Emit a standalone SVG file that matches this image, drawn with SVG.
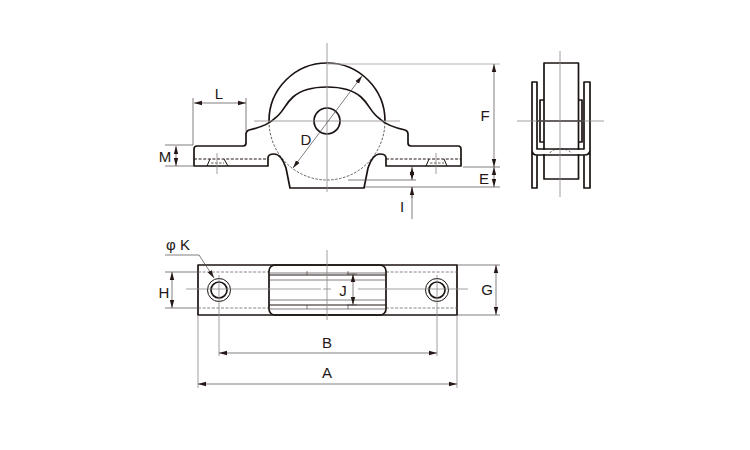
<svg xmlns="http://www.w3.org/2000/svg" width="750" height="450" viewBox="0 0 750 450">
<style>
.o{fill:none;stroke:#1a1311;stroke-width:1.7;stroke-linejoin:round}
.h{fill:none;stroke:#231815;stroke-width:1.1;stroke-dasharray:3 1.6}
.d{fill:none;stroke:#231815;stroke-width:.7;stroke-dasharray:2.5 1.5}
.t{fill:none;stroke:#8a8786;stroke-width:.8}
.m{fill:none;stroke:#4a4645;stroke-width:.7}
.a{fill:none;stroke:#4a4645;stroke-width:.7;marker-start:url(#ah);marker-end:url(#ah)}
text{font-family:"Liberation Sans",Arial,sans-serif;font-size:15px;fill:#231815;text-anchor:middle}
</style>
<defs>
<marker id="ah" viewBox="0 0 8 6" refX="8" refY="3" markerWidth="8" markerHeight="6" markerUnits="userSpaceOnUse" orient="auto-start-reverse"><path d="M0 .8L8 3L0 5.2z" fill="#231815"/></marker>
</defs>
<rect width="750" height="450" fill="#fff"/>
<g id="front-view">
<path class="o" d="M269 121A58 58 0 0 1 385 121"/>
<path class="d" d="M269 121A58 59 0 0 0 385 121"/>
<path class="o" d="M194 166V149Q194 146 197 146H243Q246 146 246 143V134Q246 131 249 130C258 128 268 125 274 119C284 112 284 105 293 97C301 90 312 87 327 87C342 87 353 90 361 97C370 105 370 112 380 119C386 125 396 128 405 130Q408 131 408 134V143Q408 146 411 146H458Q461 146 461 149V166H386V158C386 156 384 154 380 154C374 154 370 162 368 168Q366 178 364 188H290Q288 178 286 168C284 162 280 154 274 154C270 154 268 156 268 158V166Z"/>
<circle class="o" cx="327" cy="121" r="13"/>
<path class="h" d="M194 159H268M386 159H461"/>
<path class="o" style="stroke-width:1" d="M207 166L210 159M224 159L228 166M426 166L429 159M444 159L447 166"/>
<path class="d" d="M211 163H224M430 163H444"/>
</g>
<g id="side-view">
<rect class="o" x="544" y="63" width="34.500" height="116"/>
<path class="o" style="stroke:#fff;stroke-width:4" d="M538 152H584"/>
<path class="o" d="M537 149V82H532V188H537V155H584V188H590V82H584V149ZM532 150Q532 155 537 155M590 150Q590 155 584 155"/>
<path class="o" d="M544 100H540V142H544M578 100H582V142H578M537 121H584"/>
<path class="d" d="M550 153Q552 149 560 149Q569 149 571 153"/>
</g>
<g id="plan-view">
<rect class="o" x="198" y="265" width="259" height="50"/>
<path class="h" style="stroke-width:.8;stroke:#6a6665" d="M198 272H269M386 272H457M198 308H269M386 308H457"/>
<rect class="o" x="269" y="265" width="117" height="50" rx="6"/>
<path class="m" d="M269 273H386M269 280H386M269 300H386M269 309H386M307 271V275M307 305V309M348 271V275M348 305V309"/>
<path class="m" style="stroke-width:1.200;stroke:#231815" d="M269 275H386M269 305H386"/>
<circle class="o" style="stroke-width:1" cx="219" cy="290" r="11.500"/>
<circle class="o" cx="219" cy="290" r="8"/>
<circle class="o" style="stroke-width:1" cx="437" cy="290" r="11.500"/>
<circle class="o" cx="437" cy="290" r="8"/>
</g>
<g id="connectors">
<path class="t" d="M327 43V192M254 121H400M560 51V197M517 121H604M217 153V174M436 153V174"/>
<path class="t" d="M327 250V320M186 289H321M323 289H331M358 289H468M219 275V356M437 275V356M198 315V388M457 315V388"/>
<path class="t" style="stroke-width:1.200;stroke:#b5b3b2" d="M327 64H500"/>
<path class="m" d="M193 98V145M246 98V131M165 145H193M165 166H193M463 167H500M365 187H500M348 180H416M412 187V219M457 265H500M457 315H500M165 272H198M165 308H198M347 274H357M347 305H357"/>
<path class="a" d="M194 103H246"/>
<path class="a" d="M176 146V166"/>
<path class="a" d="M293 168L362 76"/>
<path class="a" d="M494 64V167"/>
<path class="a" d="M494 167V187"/>
<path class="a" d="M412 167V180"/>
<path class="m" style="marker-end:url(#ah)" d="M412 198V187"/>
<path class="a" d="M172 272V308"/>
<path class="a" d="M353 274V305"/>
<path class="a" d="M496 265V315"/>
<path class="a" d="M219 353H437"/>
<path class="a" d="M198 384H457"/>
<path class="m" style="marker-end:url(#ah)" d="M165 255H199L214 278"/>
</g>
<g id="labels">
<text x="219" y="99">L</text>
<text x="165" y="162">M</text>
<text x="306" y="145">D</text>
<text x="485" y="121">F</text>
<text x="484" y="184">E</text>
<text x="402" y="212">I</text>
<text x="178" y="250">φ K</text>
<text x="164" y="298">H</text>
<text x="343" y="296">J</text>
<text x="487" y="295">G</text>
<text x="327" y="348">B</text>
<text x="327" y="378">A</text>
</g>
</svg>
